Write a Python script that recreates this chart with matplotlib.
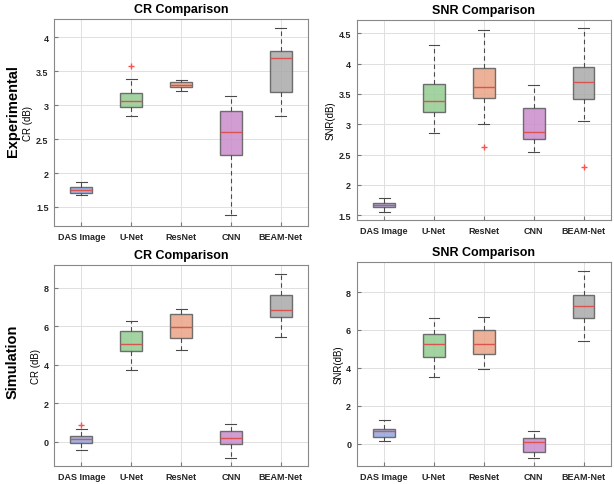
import matplotlib
matplotlib.use("Agg")
import matplotlib.pyplot as plt
from matplotlib.ticker import FormatStrFormatter

plt.rcParams["font.family"] = ["Liberation Sans", "DejaVu Sans"]

# method names and colours
methods = ["DAS Image", "U-Net", "ResNet", "CNN", "BEAM-Net"]
colors = ["#8fa6e0", "#93cc90", "#e9a486", "#c98ccb", "#a9a9a9"]

# box statistics: whislo, q1, med, q3, whishi, outliers
exp_cr = [
    [1.68, 1.70, 1.75, 1.80, 1.87, []],
    [2.84, 2.97, 3.06, 3.18, 3.38, [3.58]],
    [3.21, 3.27, 3.30, 3.34, 3.37, []],
    [1.38, 2.26, 2.60, 2.91, 3.14, []],
    [2.84, 3.19, 3.70, 3.80, 4.13, []],
]
exp_snr = [
    [1.55, 1.64, 1.67, 1.71, 1.78, []],
    [2.86, 3.21, 3.38, 3.67, 4.30, []],
    [3.01, 3.44, 3.61, 3.92, 4.55, [2.63]],
    [2.55, 2.75, 2.87, 3.27, 3.65, []],
    [3.06, 3.42, 3.70, 3.94, 4.59, [2.30]],
]
sim_cr = [
    [-0.42, -0.05, 0.17, 0.32, 0.67, [0.88]],
    [3.75, 4.73, 5.10, 5.77, 6.27, []],
    [4.79, 5.40, 5.95, 6.62, 6.88, []],
    [-0.83, -0.09, 0.21, 0.55, 0.93, []],
    [5.47, 6.50, 6.83, 7.65, 8.70, []],
]
sim_snr = [
    [0.15, 0.37, 0.65, 0.80, 1.27, []],
    [3.50, 4.55, 5.25, 5.78, 6.65, []],
    [3.94, 4.75, 5.27, 5.98, 6.67, []],
    [-0.74, -0.45, 0.07, 0.30, 0.66, []],
    [5.43, 6.65, 7.25, 7.83, 9.12, []],
]


def draw(ax, data, title, ylabel, ylim, yticks):
    stats = []
    for name, d in zip(methods, data):
        stats.append(dict(label=name, whislo=d[0], q1=d[1], med=d[2],
                          q3=d[3], whishi=d[4], fliers=d[5]))
    ax.set_axisbelow(True)
    ax.grid(True, color="#e0e0e0", linewidth=0.7)
    bp = ax.bxp(stats, widths=0.44, capwidths=0.22, patch_artist=True,
                boxprops=dict(edgecolor="#5a5a5a", linewidth=1.0),
                whiskerprops=dict(color="#4a4a4a", linestyle=(0, (4, 3)), linewidth=0.8),
                capprops=dict(color="#4a4a4a", linewidth=0.8),
                medianprops=dict(color="#d9534f", linewidth=1.0),
                flierprops=dict(marker="+", markeredgecolor="#ff5050",
                                markersize=5, linestyle="none"))
    for patch, c in zip(bp["boxes"], colors):
        patch.set_facecolor(c)
        patch.set_alpha(0.85)
        patch.set_edgecolor("#5a5a5a")
    ax.set_ylim(*ylim)
    ax.set_yticks(yticks)
    ax.yaxis.set_major_formatter(FormatStrFormatter("%g"))
    ax.set_xlim(0.45, 5.55)
    ax.set_title(title, fontsize=9, fontweight="bold", pad=5)
    ax.set_ylabel(ylabel, fontsize=7, labelpad=2)
    ax.tick_params(direction="in", length=3, labelsize=6.5, color="#777777", pad=4)
    for lab in ax.get_xticklabels() + ax.get_yticklabels():
        lab.set_fontweight("bold")
        lab.set_color("#262626")
    for s in ax.spines.values():
        s.set_color("#888888")
        s.set_linewidth(0.8)


fig = plt.figure(figsize=(6.14, 4.85), dpi=100)
ax1 = fig.add_axes([0.088, 0.532, 0.414, 0.427])
ax2 = fig.add_axes([0.581, 0.544, 0.414, 0.413])
ax3 = fig.add_axes([0.088, 0.037, 0.414, 0.415])
ax4 = fig.add_axes([0.581, 0.037, 0.414, 0.421])

draw(ax1, exp_cr, "CR Comparison", "CR (dB)", (1.22, 4.27), [1.5, 2, 2.5, 3, 3.5, 4])
draw(ax2, exp_snr, "SNR Comparison", "SNR(dB)", (1.42, 4.72), [1.5, 2, 2.5, 3, 3.5, 4, 4.5])
draw(ax3, sim_cr, "CR Comparison", "CR (dB)", (-1.25, 9.2), [0, 2, 4, 6, 8])
draw(ax4, sim_snr, "SNR Comparison", "SNR(dB)", (-1.18, 9.59), [0, 2, 4, 6, 8])

fig.text(0.021, 0.770, "Experimental", rotation=90, fontsize=10.5, fontweight="bold",
         ha="center", va="center")
fig.text(0.021, 0.254, "Simulation", rotation=90, fontsize=10.5, fontweight="bold",
         ha="center", va="center")

fig.savefig("out.png", dpi=100)
